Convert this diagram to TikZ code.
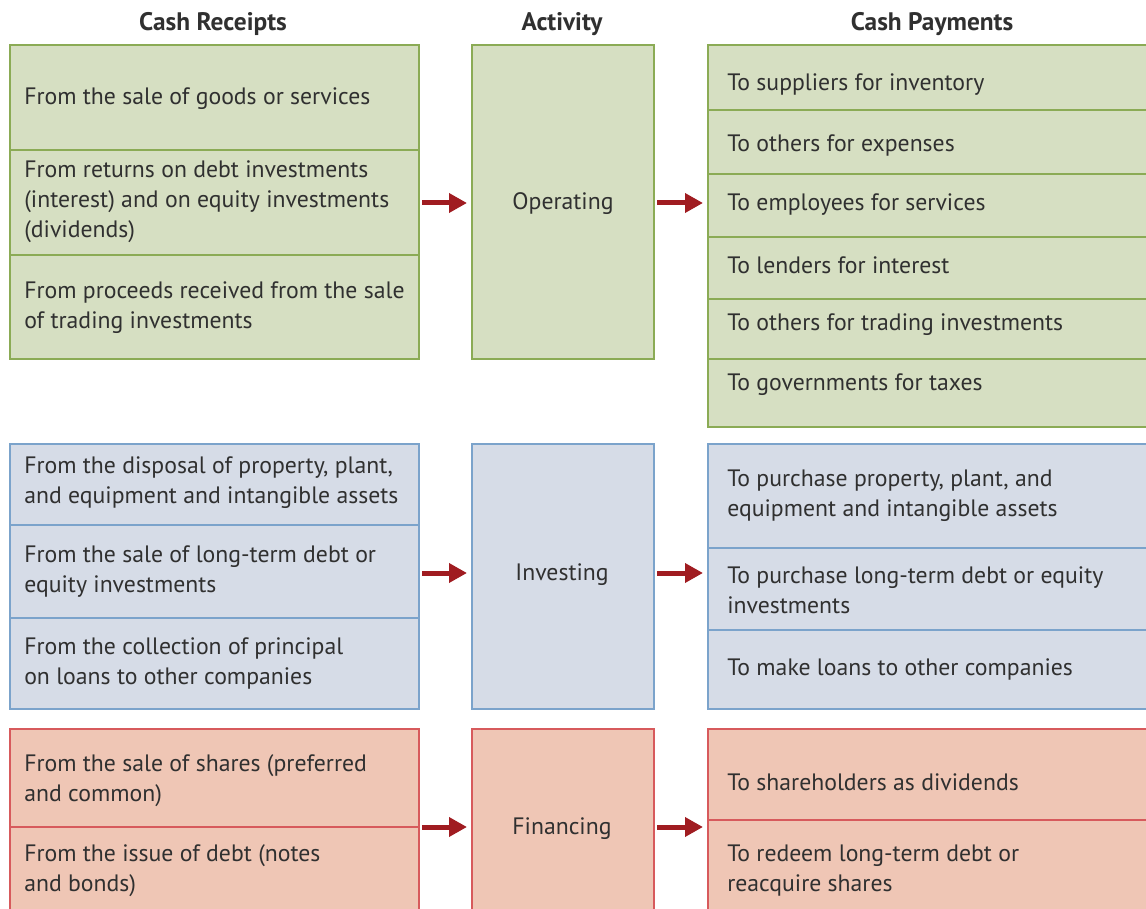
\documentclass[tikz,border=0pt]{standalone}
\usepackage{fontspec}
\setmainfont{PT Sans}
\usetikzlibrary{arrows.meta,fit}
\definecolor{ink}{HTML}{303030}
\definecolor{gfill}{HTML}{D6DFC2}
\definecolor{gline}{HTML}{8BAB55}
\definecolor{bfill}{HTML}{D6DCE7}
\definecolor{bline}{HTML}{7BA3CB}
\definecolor{rfill}{HTML}{EFC6B5}
\definecolor{rline}{HTML}{D75A5C}
\definecolor{arrowred}{HTML}{A01C21}
\begin{document}
\begin{tikzpicture}[x=0.75pt,y=-0.75pt,
  block/.style={draw, line width=1.5pt, inner sep=0pt},
  gblock/.style={block, draw=gline, fill=gfill},
  bblock/.style={block, draw=bline, fill=bfill},
  rblock/.style={block, draw=rline, fill=rfill},
  gdiv/.style={draw=gline, line width=1.5pt},
  bdiv/.style={draw=bline, line width=1.5pt},
  rdiv/.style={draw=rline, line width=1.5pt},
  txt/.style={anchor=west, align=left, inner sep=0pt, text=ink,
    font=\fontsize{17.8}{22.5}\selectfont},
  act/.style={inner sep=0pt, text=ink, font=\fontsize{17.8}{22.5}\selectfont},
  head/.style={inner sep=0pt, text=ink, font=\bfseries\fontsize{19}{22}\selectfont},
  flow/.style={draw=arrowred, line width=3.75pt,
    -{Triangle[length=13.5pt,width=14pt]}, shorten <=1.5pt, shorten >=3pt}]
\useasboundingbox (0,0) rectangle (1146,909);
\clip (0,0) rectangle (1146,909);
\fill[white] (0,0) rectangle (1146,909);

% column headings
\node[head] (hR) at (213,24) {Cash Receipts};
\node[head] (hA) at (562,24) {Activity};
\node[head] (hP) at (932,24) {Cash Payments};

% ---------- operating ----------
\node[gblock, fit={(10,45) (419,359)}] (opL) {};
\node[gblock, fit={(472,45) (654,359)}] (opA) {};
\node[gblock, fit={(708,45) (1160,427)}] (opR) {};
\draw[gdiv] (10,150) -- (419,150);
\draw[gdiv] (10,255) -- (419,255);
\foreach \yy in {110,174,237,299,359}
  \draw[gdiv] (708,\yy) -- (1160,\yy);

\node[txt] (o1) at (24,99) {From the sale of goods or services};
\node[txt] (o2) at (24,202) {From returns on debt investments\\(interest) and on equity investments\\(dividends)};
\node[txt] (o3) at (24,308) {From proceeds received from the sale\\of trading investments};
\node[act] (oa) at (563,204) {Operating};
\node[txt] (p1) at (727,85) {To suppliers for inventory};
\node[txt] (p2) at (727,145) {To others for expenses};
\node[txt] (p3) at (727,205) {To employees for services};
\node[txt] (p4) at (727,265) {To lenders for interest};
\node[txt] (p5) at (727,325) {To others for trading investments};
\node[txt] (p6) at (727,385) {To governments for taxes};

% ---------- investing ----------
\node[bblock, fit={(10,444) (419,709)}] (inL) {};
\node[bblock, fit={(472,444) (654,709)}] (inA) {};
\node[bblock, fit={(708,444) (1160,709)}] (inR) {};
\draw[bdiv] (10,525) -- (419,525);
\draw[bdiv] (10,618) -- (419,618);
\draw[bdiv] (708,548) -- (1160,548);
\draw[bdiv] (708,630) -- (1160,630);

\node[txt] (i1) at (24,483) {From the disposal of property, plant,\\and equipment and intangible assets};
\node[txt] (i2) at (24,572) {From the sale of long-term debt or\\equity investments};
\node[txt] (i3) at (24,663) {From the collection of principal\\on loans to other companies};
\node[act] (ia) at (562,575) {Investing};
\node[txt] (q1) at (727,496) {To purchase property, plant, and\\equipment and intangible assets};
\node[txt] (q2) at (727,590) {To purchase long-term debt or equity\\investments};
\node[txt] (q3) at (727,669) {To make loans to other companies};

% ---------- financing ----------
\node[rblock, fit={(10,729) (419,925)}] (fiL) {};
\node[rblock, fit={(472,729) (654,925)}] (fiA) {};
\node[rblock, fit={(708,729) (1160,925)}] (fiR) {};
\draw[rdiv] (10,827) -- (419,827);
\draw[rdiv] (708,820) -- (1160,820);

\node[txt] (f1) at (24,781) {From the sale of shares (preferred\\and common)};
\node[txt] (f2) at (24,871) {From the issue of debt (notes\\and bonds)};
\node[act] (fa) at (562,829) {Financing};
\node[txt] (r1) at (727,782) {To shareholders as dividends};
\node[txt] (r2) at (727,871) {To redeem long-term debt or\\reacquire shares};

% ---------- flows ----------
\coordinate (oy) at (0,203);
\coordinate (iy) at (0,573);
\coordinate (fy) at (0,827);
\draw[flow] (opL.east |- oy) -- (opA.west |- oy);
\draw[flow] (opA.east |- oy) -- (opR.west |- oy);
\draw[flow] (inL.east |- iy) -- (inA.west |- iy);
\draw[flow] (inA.east |- iy) -- (inR.west |- iy);
\draw[flow] (fiL.east |- fy) -- (fiA.west |- fy);
\draw[flow] (fiA.east |- fy) -- (fiR.west |- fy);
\end{tikzpicture}
\end{document}
